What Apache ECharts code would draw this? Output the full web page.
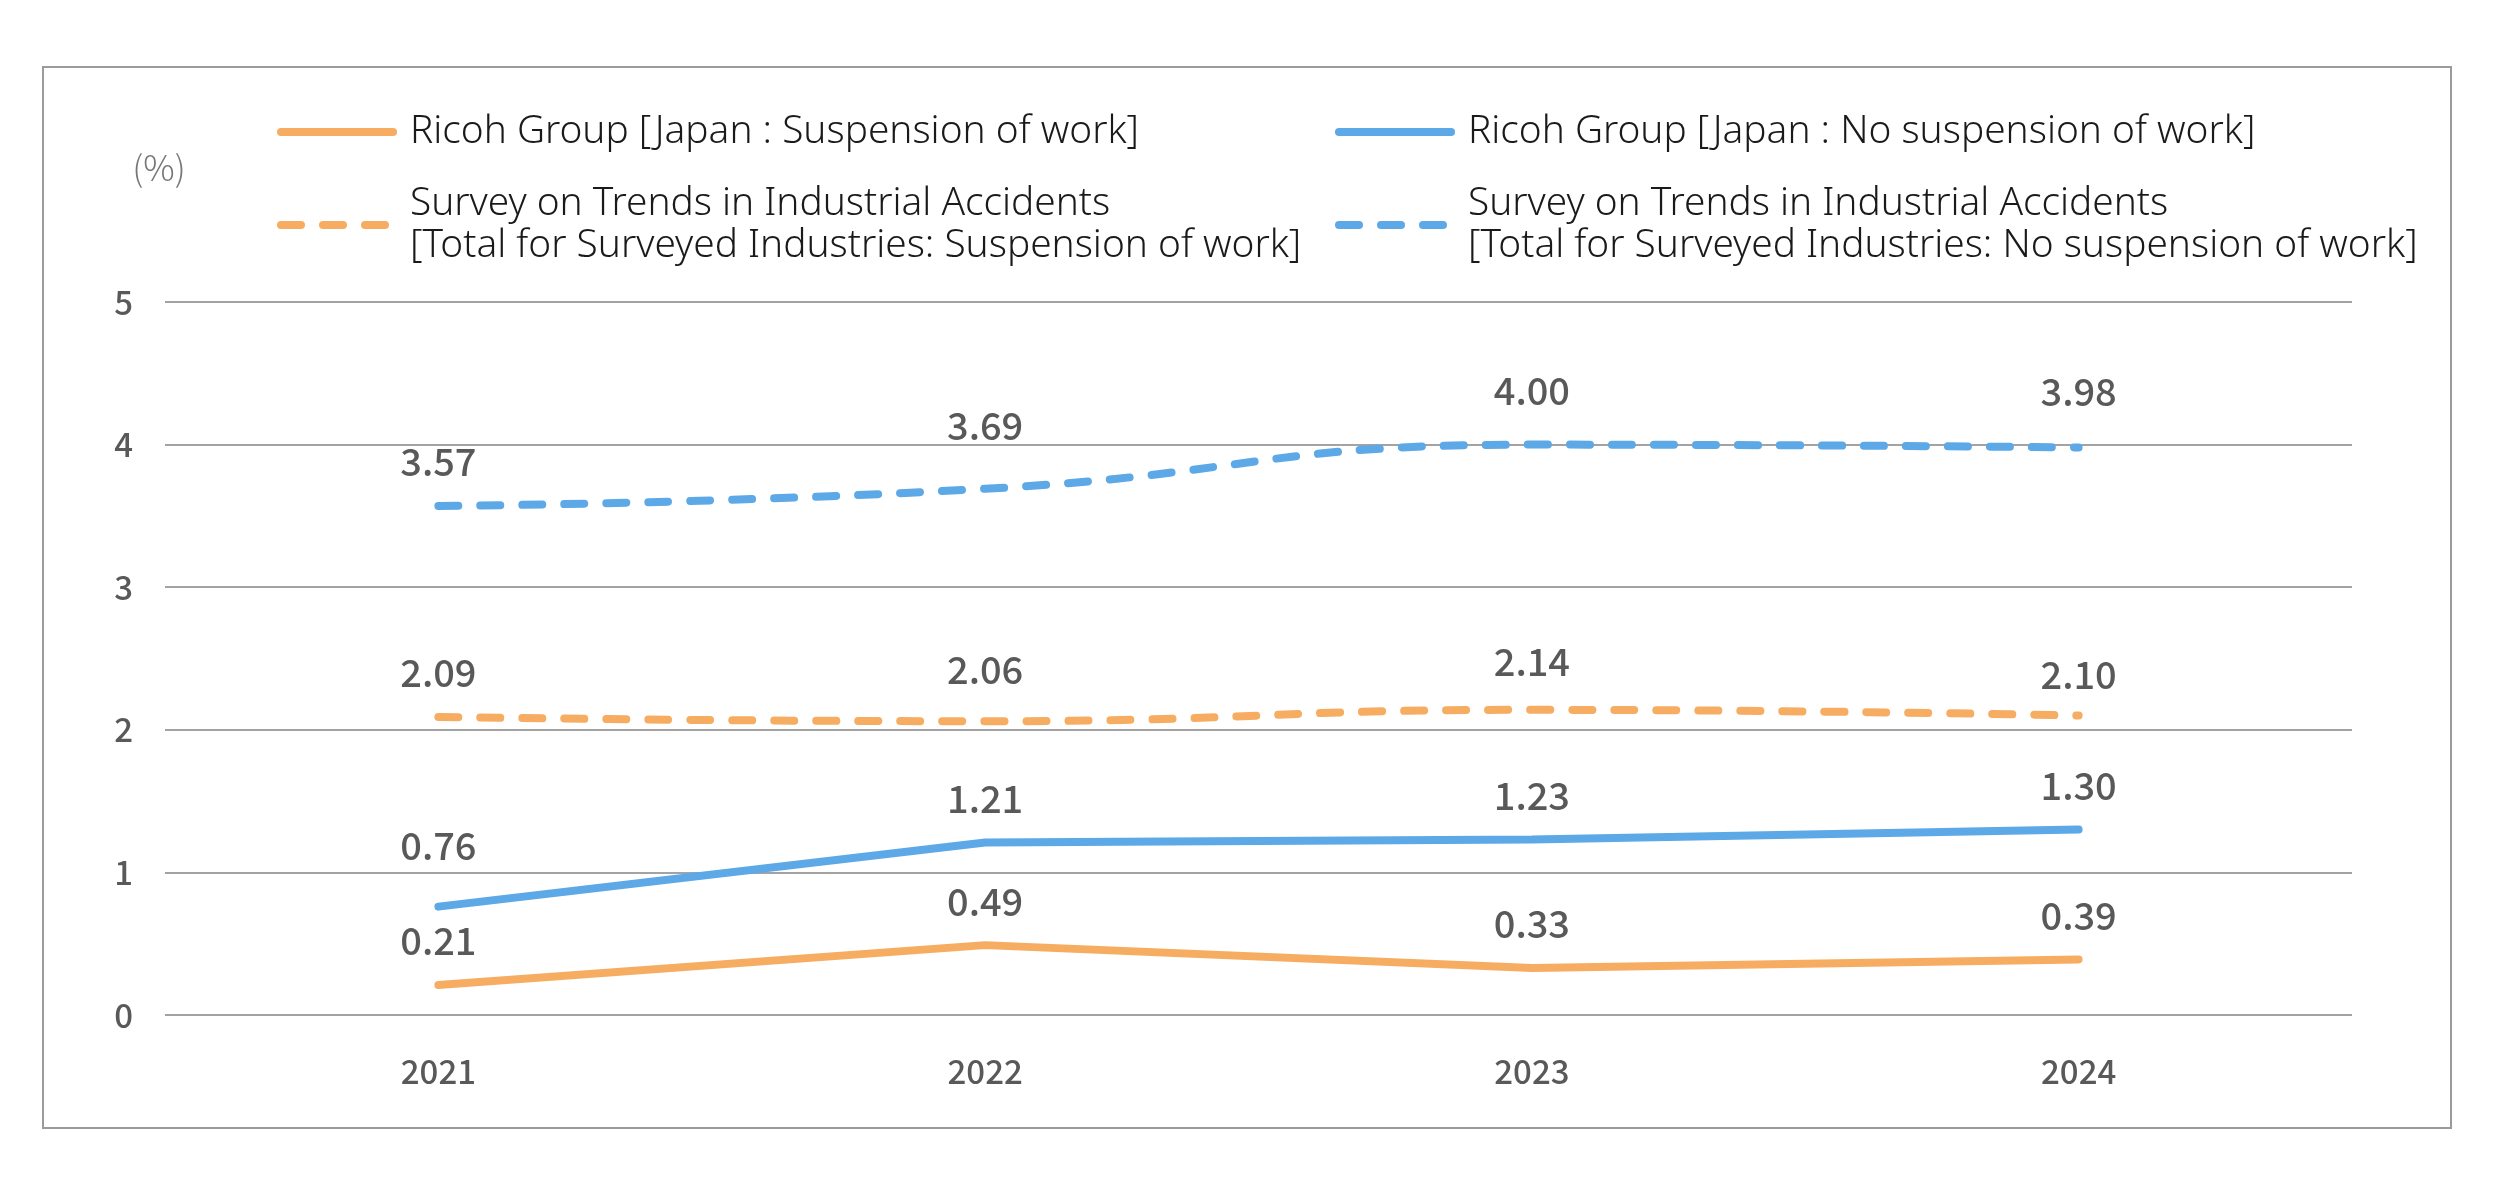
<!DOCTYPE html>
<html>
<head>
<meta charset="utf-8">
<script src="https://cdn.jsdelivr.net/npm/echarts@6/dist/echarts.min.js"></script>
<style>html,body{margin:0;padding:0;background:#fff;}#c{width:2494px;height:1198px;}</style>
</head>
<body>
<div id="c"></div>
<script>
const categories = ['2021', '2022', '2023', '2024'];
const yTicks = [0, 1, 2, 3, 4, 5];
const ricohSuspension = [0.21, 0.49, 0.33, 0.39];
const ricohNoSuspension = [0.76, 1.21, 1.23, 1.30];
const surveySuspension = [2.09, 2.06, 2.14, 2.10];
const surveyNoSuspension = [3.57, 3.69, 4.00, 3.98];
const seriesNames = [
  'Ricoh Group [Japan : Suspension of work]',
  'Ricoh Group [Japan : No suspension of work]',
  'Survey on Trends in Industrial Accidents\n[Total for Surveyed Industries: Suspension of work]',
  'Survey on Trends in Industrial Accidents\n[Total for Surveyed Industries: No suspension of work]'
];

// extra label lift (px) per series / point, styling only
const labelLift = [
  [0, 0, 0, 0],
  [17, 0, 0, 0],
  [0, 8, 4, -3],
  [0, 19, 10, 12]
];

const ORANGE = '#F6AD62';
const BLUE = '#5DA8E6';
const FONT = '"Noto Sans CJK JP", "Noto Sans", sans-serif';
const LEGEND_FONT = '"Noto Sans", "Noto Sans CJK JP", sans-serif';

const chart = echarts.init(document.getElementById('c'));

function labelCfg(lift) {
  return {
    show: true,
    position: 'top',
    distance: 24 + lift,
    fontFamily: FONT,
    fontSize: 38,
    fontWeight: 500,
    color: '#595959',
    formatter: p => p.value.toFixed(2)
  };
}

function legendAt(name, left, top, dashed) {
  return {
    data: [name],
    left: left,
    top: top,
    padding: 0,
    itemWidth: 112,
    itemHeight: 20,
    selectedMode: false,
    itemStyle: { opacity: 0 },
    lineStyle: { width: 8, cap: 'round', type: dashed ? [20, 22] : 'solid' },
    textStyle: {
      fontFamily: LEGEND_FONT,
      fontSize: 38.8,
      fontWeight: 300,
      color: '#1a1a1a',
      lineHeight: 42,
      padding: [0, 0, 0, 12]
    }
  };
}

function lineSeries(idx, data, color, dashed) {
  return {
    name: seriesNames[idx], type: 'line',
    data: data.map((v, i) => ({ value: v, label: labelCfg(labelLift[idx][i]) })),
    symbol: 'circle', symbolSize: 2, showSymbol: true,
    color: color, smooth: dashed ? 0.5 : false,
    itemStyle: { color: color },
    lineStyle: { color: color, width: 8, cap: 'round', type: dashed ? [20, 22] : 'solid' },
    label: labelCfg(0)
  };
}

chart.setOption({
  backgroundColor: '#fff',
  animation: false,
  graphic: [
    {
      type: 'rect',
      shape: { x: 43, y: 67, width: 2408, height: 1061 },
      style: { fill: 'none', stroke: '#9b9b9b', lineWidth: 2 },
      silent: true
    },
    {
      type: 'text',
      x: 159,
      y: 168,
      style: {
        text: '(%)',
        fontFamily: FONT,
        fontSize: 35,
        fontWeight: 300,
        fill: '#777',
        align: 'center',
        verticalAlign: 'middle'
      }
    }
  ],
  legend: [
    legendAt(seriesNames[0], 277, 111, false),
    legendAt(seriesNames[1], 1335, 111, false),
    legendAt(seriesNames[2], 277, 183, true),
    legendAt(seriesNames[3], 1335, 183, true)
  ],
  grid: { left: 165, right: 142, top: 302, bottom: 183 },
  xAxis: {
    type: 'category',
    data: categories,
    boundaryGap: true,
    axisLine: { show: false },
    axisTick: { show: false },
    axisLabel: {
      margin: 40,
      fontFamily: FONT,
      fontSize: 33,
      fontWeight: 500,
      color: '#595959'
    }
  },
  yAxis: {
    type: 'value',
    min: yTicks[0],
    max: yTicks[yTicks.length - 1],
    interval: 1,
    axisLine: { show: false },
    axisTick: { show: false },
    axisLabel: {
      margin: 32,
      fontFamily: FONT,
      fontSize: 33,
      fontWeight: 500,
      color: '#595959'
    },
    splitLine: { lineStyle: { color: '#a3a3a3', width: 2 } }
  },
  series: [
    lineSeries(0, ricohSuspension, ORANGE, false),
    lineSeries(1, ricohNoSuspension, BLUE, false),
    lineSeries(2, surveySuspension, ORANGE, true),
    lineSeries(3, surveyNoSuspension, BLUE, true)
  ]
});
</script>
</body>
</html>
